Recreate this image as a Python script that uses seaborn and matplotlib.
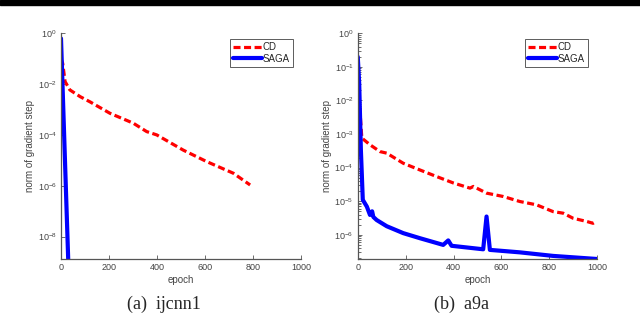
import numpy as np
import pandas as pd
import matplotlib
matplotlib.use("Agg")
import matplotlib.pyplot as plt
import matplotlib.ticker as mticker
from matplotlib.patches import Rectangle
import seaborn as sns

# ---- data ----
# (a) ijcnn1
cd_a_epoch = [0, 7, 17, 37, 80, 121, 204, 301, 357, 399, 510, 607, 718, 788]
cd_a_val = [1e-1, 6.6e-2, 1.26e-2, 5.9e-3, 3.2e-3, 2.0e-3, 7.1e-4, 2.9e-4,
            1.35e-4, 1.0e-4, 2.5e-5, 8.9e-6, 3.1e-6, 1.07e-6]
saga_a_epoch = [0, 10, 20, 30, 33]
saga_a_val = [0.63, 8e-4, 1e-6, 1.3e-9, 1e-10]

# (b) a9a
cd_b_epoch = [0, 6, 17, 51, 93, 121, 190, 260, 330, 399, 469, 483, 538,
              608, 677, 747, 816, 858, 900, 956, 983, 997]
cd_b_val = [1.2e-2, 1.05e-2, 7.6e-4, 4.8e-4, 3.0e-4, 2.7e-4, 1.35e-4, 8.5e-5,
            5.4e-5, 3.5e-5, 2.45e-5, 2.75e-5, 1.74e-5, 1.38e-5, 9.8e-6,
            7.8e-6, 4.9e-6, 4.4e-6, 3.1e-6, 2.5e-6, 2.2e-6, 2.5e-6]
saga_b_epoch = [0, 6, 13, 21, 38, 51, 60, 65, 79, 121, 190, 260, 357, 378,
                392, 524, 538, 552, 677, 816, 1000]
saga_b_val = [2.0e-1, 3.2e-2, 3.4e-4, 1.1e-5, 6.9e-6, 3.9e-6, 5.0e-6, 3.4e-6,
              2.75e-6, 1.8e-6, 1.12e-6, 7.9e-7, 5.0e-7, 6.8e-7, 4.7e-7,
              3.7e-7, 3.5e-6, 3.55e-7, 3.0e-7, 2.35e-7, 1.9e-7]

captions = ["(a)  ijcnn1", "(b)  a9a"]

sns.set_style("ticks")
plt.rcParams["font.family"] = ["Liberation Sans", "DejaVu Sans"]
plt.rcParams["mathtext.fontset"] = "dejavusans"

fig = plt.figure(figsize=(6.4, 3.24), dpi=100)
ax_a = fig.add_axes([0.0953, 0.2006, 0.375, 0.6966])
ax_b = fig.add_axes([0.559, 0.2006, 0.374, 0.6966])

# black bar at top
fig.patches.append(Rectangle((0, 1 - 4.5 / 324), 1, 4.5 / 324,
                             transform=fig.transFigure, color="black"))

panels = [
    (ax_a, cd_a_epoch, cd_a_val, saga_a_epoch, saga_a_val, (1.3e-9, 1),
     [1e0, 1e-2, 1e-4, 1e-6, 1e-8], False, (293 / 640, 1 - 39 / 324)),
    (ax_b, cd_b_epoch, cd_b_val, saga_b_epoch, saga_b_val, (1.9e-7, 1),
     [1e0, 1e-1, 1e-2, 1e-3, 1e-4, 1e-5, 1e-6], True, (588 / 640, 1 - 39 / 324)),
]

for ax, ce, cv, se, sv, ylim, yt, minor, lg in panels:
    df = pd.concat([
        pd.DataFrame({"epoch": ce, "val": cv, "method": "CD"}),
        pd.DataFrame({"epoch": se, "val": sv, "method": "SAGA"}),
    ])
    sns.lineplot(data=df[df.method == "CD"], x="epoch", y="val", ax=ax,
                 color="#ff0000", lw=2.3, linestyle=(0, (2.2, 1.1)),
                 label="CD", sort=False)
    sns.lineplot(data=df[df.method == "SAGA"], x="epoch", y="val", ax=ax,
                 color="#0000ff", lw=3.0, label="SAGA", sort=False)
    ax.set_yscale("log")
    ax.set_ylim(*ylim)
    ax.set_xlim(0, 1000)
    ax.set_yticks(yt)
    ax.yaxis.set_major_formatter(mticker.LogFormatterSciNotation())
    if minor:
        ax.yaxis.set_minor_locator(mticker.LogLocator(base=10, subs=np.arange(2, 10)))
        ax.tick_params(axis="y", which="minor", length=2, width=0.6, color="#555555", direction="in")
    else:
        ax.yaxis.set_minor_locator(mticker.NullLocator())
    ax.set_xticks([0, 200, 400, 600, 800, 1000])
    ax.tick_params(axis="both", which="major", labelsize=6.5, length=3, width=0.6,
                   color="#555555", labelcolor="#444444", direction="in", pad=3)
    for s in ["top", "right"]:
        ax.spines[s].set_visible(False)
    for s in ["left", "bottom"]:
        ax.spines[s].set_color("#555555")
        ax.spines[s].set_linewidth(0.9)
    ax.set_xlabel("epoch", fontsize=7, color="#444444", labelpad=2)
    ax.set_ylabel("norm of gradient step", fontsize=7, color="#444444", labelpad=2)
    leg = ax.legend(loc="upper right", bbox_to_anchor=lg, bbox_transform=fig.transFigure,
                    fontsize=7, frameon=True, fancybox=False, handlelength=3.0,
                    borderpad=0.3, labelspacing=0.2, handletextpad=0.1, borderaxespad=0)
    leg.get_frame().set_edgecolor("#333333")
    leg.get_frame().set_linewidth(0.7)

fig.text(164 / 640, 1 - 304 / 324, captions[0], ha="center", va="center",
         fontsize=13, family=["Liberation Serif", "DejaVu Serif"])
fig.text(462 / 640, 1 - 304 / 324, captions[1], ha="center", va="center",
         fontsize=13, family=["Liberation Serif", "DejaVu Serif"])

fig.savefig("out.png", dpi=100)
